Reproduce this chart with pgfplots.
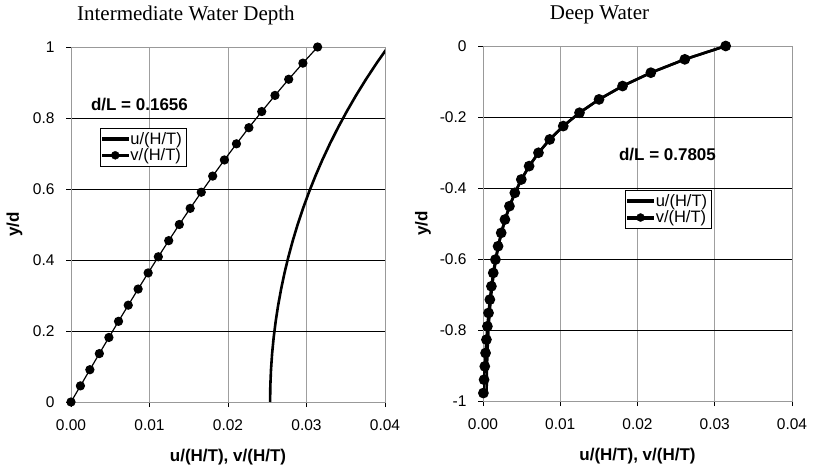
\documentclass[border=0pt]{standalone}
\usepackage{fontspec}
\setmainfont{Liberation Sans}
\newfontfamily\titlefont{Liberation Serif}
\usepackage{pgfplots}
\pgfplotsset{compat=1.18}
\usepackage{pgfplotstable}

% intermediate water, d/L = 0.1656
\pgfplotstableread{
y        v         u
0.00000  0.000000  0.025363
0.04545  0.001200  0.025391
0.09091  0.002403  0.025477
0.13636  0.003611  0.025619
0.18182  0.004827  0.025818
0.22727  0.006054  0.026075
0.27273  0.007294  0.026391
0.31818  0.008551  0.026766
0.36364  0.009827  0.027200
0.40909  0.011125  0.027696
0.45455  0.012448  0.028253
0.50000  0.013798  0.028873
0.54545  0.015180  0.029559
0.59091  0.016595  0.030310
0.63636  0.018048  0.031129
0.68182  0.019541  0.032017
0.72727  0.021077  0.032978
0.77273  0.022661  0.034012
0.81818  0.024296  0.035122
0.86364  0.025985  0.036311
0.90909  0.027732  0.037581
0.95455  0.029541  0.038935
1.00000  0.031416  0.040376
}\intermediate

% deep water, d/L = 0.7805
\pgfplotstableread{
y        v          u
 0.0000  0.031416   0.031420
-0.0376  0.026125   0.026129
-0.0752  0.021725   0.021730
-0.1128  0.018066   0.018072
-0.1504  0.015023   0.015030
-0.1880  0.012492   0.012500
-0.2256  0.010387   0.010397
-0.2632  0.0086357  0.0086482
-0.3008  0.0071792  0.0071943
-0.3384  0.0059675  0.0059857
-0.3760  0.0049593  0.0049811
-0.4136  0.0041201  0.0041464
-0.4512  0.0034215  0.0034531
-0.4888  0.0028395  0.0028774
-0.5264  0.0023543  0.0023999
-0.5640  0.0019494  0.0020043
-0.6016  0.0016109  0.0016770
-0.6392  0.0013274  0.0014069
-0.6768  0.0010892  0.0011847
-0.7144  0.00088805 0.0010029
-0.7520  0.00071720 0.00085533
-0.7896  0.00057082 0.00073690
-0.8272  0.00044392 0.00064361
-0.8648  0.00033212 0.00057226
-0.9024  0.00023165 0.00052043
-0.9400  0.00013911 0.00048635
-0.9776  0.00005129 0.00046884
}\deep

\pgfplotsset{
  wave/.style={
    scale only axis, height=355pt,
    xmin=0, xmax=0.04, xtick={0,0.01,0.02,0.03,0.04},
    scaled x ticks=false,
    xticklabel style={/pgf/number format/.cd, fixed, fixed zerofill, precision=2, /tikz/.cd, yshift=-9pt},
    yticklabel style={xshift=-8pt},
    /pgf/number format/assume math mode=true,
    tick label style={font=\fontsize{15.5}{17}\selectfont},
    tick align=outside, major tick length=5pt, tick style={black, line width=0.6pt},
    xtick pos=bottom, ytick pos=left,
    grid=major,
    x grid style={gray!75, line width=0.6pt},
    y grid style={black, line width=0.6pt},
    axis line style={gray!80, line width=0.6pt},
    label style={font=\fontsize{17}{19}\selectfont\bfseries},
    xlabel={u/(H/T), v/(H/T)}, ylabel={y/d},
    xlabel style={at={(axis description cs:0.5,-0.154)}, anchor=center},
    every axis title shift=0pt,
    title style={font=\titlefont\fontsize{21}{23}\selectfont, anchor=center},
    legend cell align=left,
    legend style={font=\fontsize{16.5}{17}\selectfont, draw=black,
      inner xsep=2pt, inner ysep=2pt, row sep=-1pt, anchor=north west},
  },
  uline/.style={black, line width=2.6pt},
  vline/.style={black, mark=*, mark size=4pt},
}
% legend keys built from filled shapes so the stroke width is certain
\newcommand\ukey{\addlegendimage{legend image code/.code={\fill[black] (0pt,-1.4pt) rectangle (26pt,1.4pt);}}}
\newcommand\vkey[1]{\addlegendimage{legend image code/.code={\fill[black] (0pt,-#1) rectangle (26pt,#1); \fill[black] (13pt,0pt) circle (4pt);}}}

\begin{document}
\begin{tikzpicture}
\useasboundingbox (0,0) rectangle (813pt,469pt);

\begin{axis}[wave, width=314pt, at={(71pt,67pt)}, anchor=south west,
  ymin=0, ymax=1, ytick={0,0.2,0.4,0.6,0.8,1},
  ylabel style={at={(axis description cs:-0.18,0.5)}, anchor=center},
  title={Intermediate Water Depth},
  title style={at={(axis description cs:0.366,1.09)}},
  legend style={at={(rel axis cs:0.092,0.772)}}]
\addplot[uline, no marks, forget plot] table[x=u, y=y] {\intermediate};
\addplot[vline, line width=1.2pt, forget plot] table[x=v, y=y] {\intermediate};
\ukey
\addlegendentry{u/(H/T)}
\vkey{0.7pt}
\addlegendentry{v/(H/T)}
\node[font=\fontsize{17}{19}\selectfont\bfseries] at (rel axis cs:0.218,0.839) {d/L = 0.1656};
\end{axis}

\begin{axis}[wave, width=309pt, at={(483pt,68pt)}, anchor=south west,
  ymin=-1, ymax=0, ytick={-1,-0.8,-0.6,-0.4,-0.2,0},
  ylabel style={at={(axis description cs:-0.194,0.5)}, anchor=center},
  title={Deep Water},
  title style={at={(axis description cs:0.377,1.087)}},
  legend style={at={(rel axis cs:0.46,0.594)}}]
\addplot[uline, no marks, forget plot] table[x=u, y=y] {\deep};
\addplot[vline, line width=2.6pt, forget plot] table[x=v, y=y] {\deep};
\ukey
\addlegendentry{u/(H/T)}
\vkey{1.4pt}
\addlegendentry{v/(H/T)}
\node[font=\fontsize{17}{19}\selectfont\bfseries] at (rel axis cs:0.597,0.693) {d/L = 0.7805};
\end{axis}
\end{tikzpicture}
\end{document}
